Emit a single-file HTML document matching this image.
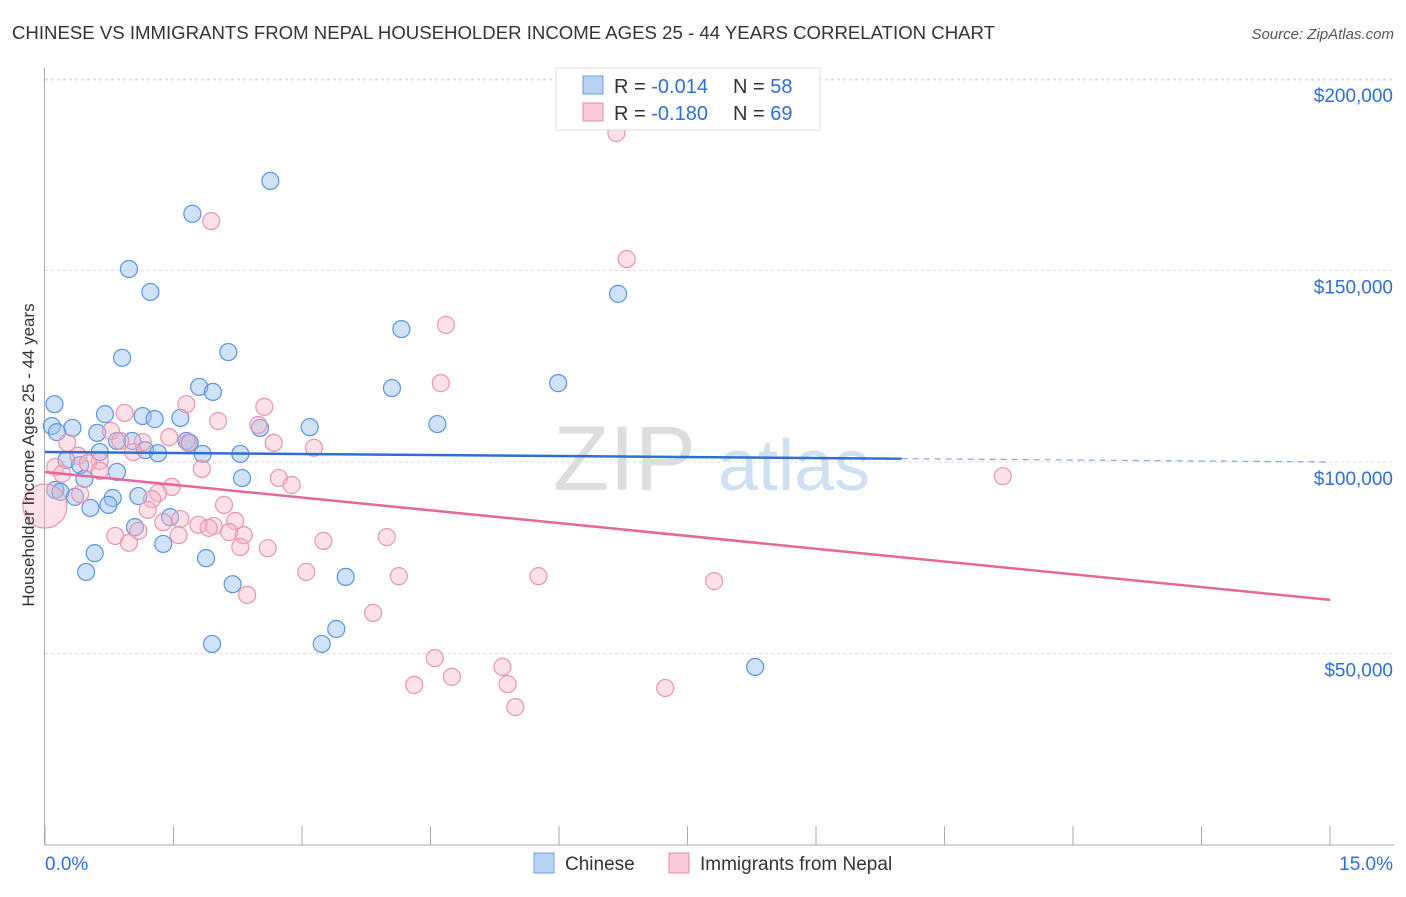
<!DOCTYPE html>
<html><head><meta charset="utf-8"><style>
body{margin:0;background:#fff;font-family:"Liberation Sans",sans-serif}
svg text{font-family:"Liberation Sans",sans-serif}
</style></head><body>
<svg id="chart" width="1406" height="892" viewBox="0 0 1406 892" xmlns="http://www.w3.org/2000/svg">
<text x="12" y="39" font-size="18" fill="#333" textLength="983" lengthAdjust="spacingAndGlyphs">CHINESE VS IMMIGRANTS FROM NEPAL HOUSEHOLDER INCOME AGES 25 - 44 YEARS CORRELATION CHART</text>
<text x="1394" y="39" font-size="15" fill="#555" font-style="italic" text-anchor="end">Source: ZipAtlas.com</text>
<g id="grid"></g>
<g id="axes"></g>
<text x="553" y="490" font-size="92" font-family="Liberation Serif" fill="#ddd">ZIP</text>
<text x="718" y="490" font-size="72" fill="#cfe0f3">atlas</text>
<g id="pts"></g>
<g id="trends"></g>
<text transform="translate(34,455) rotate(-90)" font-size="17" fill="#333" text-anchor="middle">Householder Income Ages 25 - 44 years</text>
<g>
<rect x="556" y="68" width="264" height="62" fill="#fff" stroke="#ddd"/>
<rect x="583" y="76" width="20" height="18" fill="#b8d2f4" stroke="#6a9de0"/>
<rect x="583" y="103" width="20" height="18" fill="#fbc8d8" stroke="#ea8cab"/>
<text x="614" y="93" font-size="20" fill="#333">R = <tspan fill="#2d6fd6">-0.014</tspan></text>
<text x="733" y="93" font-size="20" fill="#333">N = <tspan fill="#2d6fd6">58</tspan></text>
<text x="614" y="120" font-size="20" fill="#333">R = <tspan fill="#2d6fd6">-0.180</tspan></text>
<text x="733" y="120" font-size="20" fill="#333">N = <tspan fill="#2d6fd6">69</tspan></text>
</g>
<g>
<rect x="534" y="853" width="20" height="20" fill="#b8d2f4" stroke="#6a9de0"/>
<text x="565" y="870" font-size="19" fill="#333">Chinese</text>
<rect x="669" y="853" width="20" height="20" fill="#fbc8d8" stroke="#ea8cab"/>
<text x="700" y="870" font-size="19" fill="#333">Immigrants from Nepal</text>
</g>
</svg>
<script>
const yTicks=[50000,100000,150000,200000];
const yTickLabels=["$50,000","$100,000","$150,000","$200,000"];
const xTickLabels=["0.0%","15.0%"];
const chineseX=[2.63,1.72,0.98,1.23,6.69,4.16,2.14,0.90,5.99,4.05,1.80,1.96,0.11,0.70,1.14,1.28,1.58,3.09,4.58,0.08,0.32,2.51,0.14,0.61,0.84,1.02,1.65,1.69,1.17,1.32,1.84,2.28,0.64,0.25,0.41,0.84,0.46,2.30,0.12,0.18,0.35,0.79,1.09,0.74,0.53,1.46,1.05,1.38,0.58,1.88,0.48,2.19,3.51,3.40,3.23,1.95,8.29];
const chineseY=[173.4,164.8,150.4,144.4,143.9,134.7,128.7,127.2,120.6,119.3,119.6,118.3,115.1,112.5,112.0,111.2,111.5,109.1,109.9,109.4,108.9,108.9,107.8,107.6,105.5,105.5,105.5,105.0,103.1,102.3,102.1,102.1,102.6,100.5,99.2,97.4,95.6,95.8,92.7,92.2,90.9,90.6,91.1,88.8,88.0,85.6,83.0,78.6,76.2,74.9,71.3,68.1,70.0,56.4,52.5,52.5,46.5];
const nepalX=[6.67,1.94,6.79,4.68,4.62,1.65,2.56,0.93,2.02,2.49,0.77,1.45,0.26,0.88,1.14,2.67,3.14,1.67,1.03,0.39,0.64,0.50,0.12,0.20,0.64,1.83,11.18,2.73,2.88,1.48,1.32,0.41,1.25,2.09,0,1.20,1.58,2.22,1.38,1.97,1.79,1.91,1.09,2.15,2.32,1.56,0.82,3.99,3.25,0.98,2.28,2.60,3.05,4.13,5.76,7.81,2.36,3.83,4.55,5.34,4.75,4.31,5.40,7.24,5.49];
const nepalY=[185.9,162.9,153.0,135.8,120.6,115.1,114.4,112.8,110.7,109.7,108.1,106.5,105.0,105.5,105.2,105.0,103.7,105.0,102.6,101.6,100.3,99.7,98.7,96.9,97.7,98.2,96.3,95.8,94.0,93.5,91.9,91.6,90.3,88.8,88.5,87.5,85.1,84.6,84.3,83.3,83.6,82.8,82.0,81.7,80.9,80.9,80.7,80.4,79.4,78.9,77.8,77.5,71.3,70.2,70.2,68.9,65.3,60.6,48.8,46.5,43.9,41.8,42.0,41.0,36.0];
const blueTrend=[102.6,100.0];
const pinkTrend=[97.4,64.0];
const NS='http://www.w3.org/2000/svg';
const X=v=>45+v/15*1285;
const Y=v=>845-v/50000*191.5;
const Yk=v=>Y(v*1000);
function mk(t,a,p){const e=document.createElementNS(NS,t);for(const k in a)e.setAttribute(k,a[k]);p.appendChild(e);return e;}
const gridG=document.getElementById('grid'),axesG=document.getElementById('axes');
yTicks.forEach((t,i)=>{
 const l=mk('line',{x1:45,x2:1394,y1:Y(t),y2:Y(t),stroke:'#ddd','stroke-dasharray':'3,3'},gridG);
 
 
 const tx=mk('text',{x:1393,y:Y(t)+23,'font-size':19,fill:'#2d6fd6','text-anchor':'end'},axesG);
 tx.textContent=yTickLabels[i];
 
 
});
const topLine=mk('line',{x1:45,x2:1394,y1:80,y2:80,stroke:'#ddd','stroke-dasharray':'3,3'},gridG);


mk('line',{x1:44.5,x2:44.5,y1:68,y2:845,stroke:'#aaa'},axesG);
mk('line',{x1:45,x2:1394,y1:845,y2:845,stroke:'#aaa'},axesG);
for(let i=0;i<=10;i++){const t=mk('line',{x1:X(i*1.5),x2:X(i*1.5),y1:826,y2:845,stroke:'#aaa'},axesG);
 
 }
const xl0=mk('text',{x:45,y:870,'font-size':19,fill:'#2d6fd6'},axesG);xl0.textContent=xTickLabels[0];


const xl1=mk('text',{x:1393,y:870,'font-size':19,fill:'#2d6fd6','text-anchor':'end'},axesG);xl1.textContent=xTickLabels[1];


const ptsG=document.getElementById('pts');
chineseX.forEach((x,i)=>{const c=mk('circle',{cx:X(x),cy:Yk(chineseY[i]),r:8.5,fill:'rgba(150,190,240,0.45)',stroke:'#5b93dc','stroke-width':1.2},ptsG);
 
 });
nepalX.forEach((x,i)=>{const c=mk('circle',{cx:X(x),cy:Yk(nepalY[i]),r:(x===0?22:8.5),fill:'rgba(248,180,200,0.4)',stroke:'#eb94b0','stroke-width':1.2},ptsG);
 
 });
const trG=document.getElementById('trends');
const bAt=x=>blueTrend[0]+(blueTrend[1]-blueTrend[0])*x/15;
const b1=mk('line',{x1:X(0),y1:Yk(bAt(0)),x2:X(10),y2:Yk(bAt(10)),stroke:'#2d6fd6','stroke-width':2.5},trG);


const b2=mk('line',{x1:X(10),y1:Yk(bAt(10)),x2:X(15),y2:Yk(bAt(15)),stroke:'#2d6fd6','stroke-width':1.2,'stroke-dasharray':'6,5',opacity:0.6},trG);


const p1=mk('line',{x1:X(0),y1:Yk(pinkTrend[0]),x2:X(15),y2:Yk(pinkTrend[1]),stroke:'#e8659a','stroke-width':2.5},trG);


</script>
</body></html>
